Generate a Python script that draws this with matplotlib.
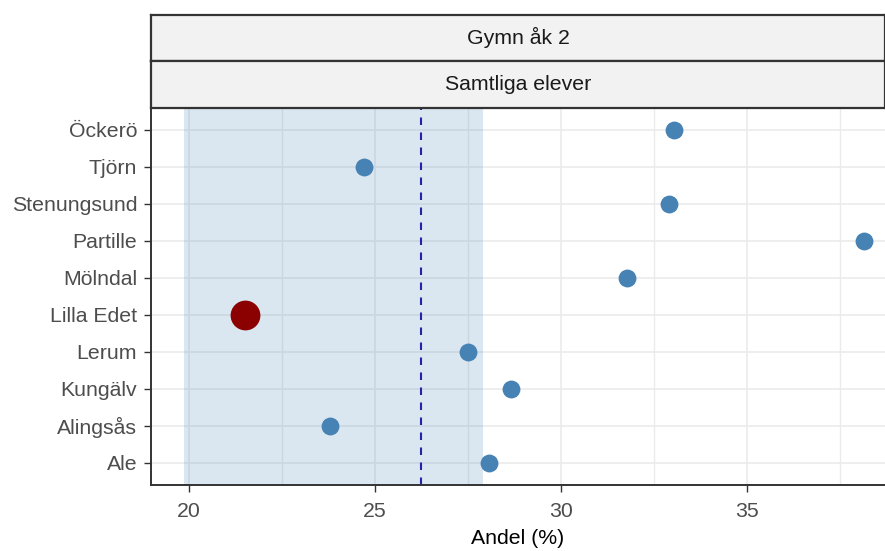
import matplotlib
matplotlib.use("Agg")
import matplotlib.pyplot as plt
from matplotlib.ticker import MultipleLocator

plt.rcParams['font.family'] = ['Liberation Sans', 'DejaVu Sans']

# data (bottom to top)
kommuner = ['Ale', 'Alingsås', 'Kungälv', 'Lerum', 'Lilla Edet',
            'Mölndal', 'Partille', 'Stenungsund', 'Tjörn', 'Öckerö']
andel = [28.07, 23.80, 28.66, 27.50, 21.52, 31.78, 38.13, 32.89, 24.70, 33.04]
highlight = 'Lilla Edet'

# reference band and mean line
band_low, band_high = 19.87, 27.90
medel = 26.23

strip_top = 'Gymn åk 2'
strip_bottom = 'Samtliga elever'
xlabel = 'Andel (%)'
xticks = [20, 25, 30, 35]

W, H = 885, 551
fig = plt.figure(figsize=(W / 100, H / 100), dpi=100)

def box(x0, y0, x1, y1):
    # pixel box (top-left origin) -> figure fraction
    return [x0 / W, 1 - y1 / H, (x1 - x0) / W, (y1 - y0) / H]

ax = fig.add_axes(box(151, 107.5, 885, 485))

ypos = list(range(1, len(kommuner) + 1))

ax.axvspan(band_low, band_high, color='steelblue', alpha=0.2, lw=0, zorder=1)
ax.axvline(medel, color='#2424a8', lw=1.5, linestyle=(0, (3.6, 3.6)), zorder=2)

for y, k, v in zip(ypos, kommuner, andel):
    if k == highlight:
        ax.scatter(v, y, s=460, color='#8b0000', zorder=3, linewidths=0)
    else:
        ax.scatter(v, y, s=165, color='steelblue', zorder=3, linewidths=0)

ax.set_xlim(18.993, 38.698)
ax.set_ylim(0.4, 10.6)
ax.set_yticks(ypos)
ax.set_yticklabels(kommuner)
ax.set_xticks(xticks)
ax.xaxis.set_minor_locator(MultipleLocator(2.5))

ax.set_axisbelow(True)
ax.grid(True, which='major', color='#ebebeb', lw=1.2, zorder=0)
ax.grid(True, which='minor', axis='x', color='#ebebeb', lw=1.0, zorder=0)

for s in ['top', 'right']:
    ax.spines[s].set_visible(False)
for s in ['left', 'bottom']:
    ax.spines[s].set_color('#333333')
    ax.spines[s].set_linewidth(1.4)

ax.tick_params(axis='both', which='major', length=5, width=1.0, color='#333333',
               labelsize=15.3, labelcolor='#4d4d4d')
ax.tick_params(axis='y', which='major', pad=5)
ax.tick_params(axis='x', which='major', pad=7)
ax.tick_params(axis='x', which='minor', length=0)
ax.set_xlabel(xlabel, fontsize=15.3, color='black', labelpad=6)

# facet strips
for (y0, y1, txt) in [(14.5, 60.5, strip_top), (60.5, 107.5, strip_bottom)]:
    sax = fig.add_axes(box(151, y0, 885, y1))
    sax.set_facecolor('#f2f2f2')
    sax.set_xticks([])
    sax.set_yticks([])
    for s in sax.spines.values():
        s.set_color('#333333')
        s.set_linewidth(1.6)
    sax.text(0.5, 0.5, txt, transform=sax.transAxes, ha='center', va='center',
             fontsize=15.3, color='#1a1a1a')

fig.savefig('out.png', dpi=100)
